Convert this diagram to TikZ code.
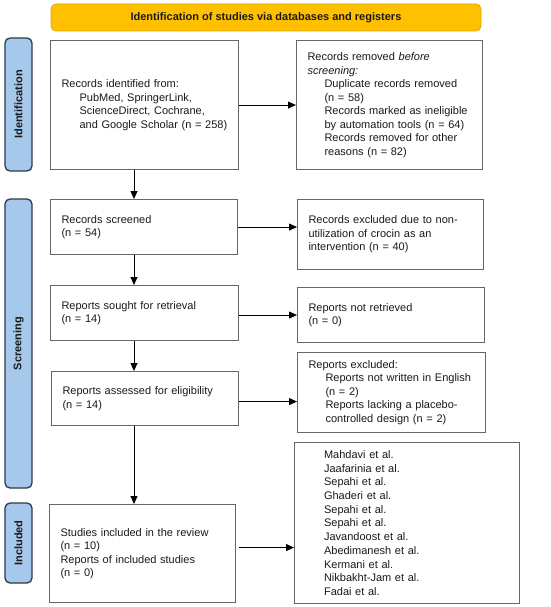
\documentclass[tikz,border=0pt]{standalone}
\usepackage{fontspec}
\setmainfont{Liberation Sans}
\usetikzlibrary{arrows.meta,calc}
\definecolor{bannerfill}{HTML}{FFC000}
\definecolor{bannerdraw}{HTML}{E5A800}
\definecolor{sidefill}{HTML}{A6C8EA}
\definecolor{sidedraw}{HTML}{2B3A4A}
\definecolor{boxdraw}{HTML}{666666}
\definecolor{txt}{HTML}{1A1A1A}
\tikzset{
  flowbox/.style={draw=boxdraw, line width=1.1pt, fill=white, anchor=north west,
    inner xsep=10pt, inner ysep=2pt, align=left, text=txt,
    font=\fontsize{11}{13.5}\selectfont},
  sidelabel/.style={draw=sidedraw, fill=sidefill, line width=1.3pt, rounded corners=5pt,
    rotate=90, minimum height=27pt, inner sep=0pt, text=txt,
    font=\fontsize{11}{13.5}\selectfont\bfseries},
  banner/.style={draw=bannerdraw, fill=bannerfill, line width=0.8pt, rounded corners=5pt,
    minimum width=430pt, minimum height=27pt, inner sep=0pt, text=txt,
    font=\fontsize{11}{13.5}\selectfont\bfseries},
  flowarrow/.style={draw=black, line width=1pt, -{Triangle[length=8pt,width=7pt]}}
}
\newcommand{\ind}{\hspace*{17pt}}
\begin{document}
\begin{tikzpicture}[x=1pt,y=-1pt]
\useasboundingbox (0,0) rectangle (550,607);
\node[banner] (banner) at (266,17.5) {Identification of studies via databases and registers};
\node[sidelabel, minimum width=133pt] (sideid) at (18.5,104.5) {Identification};
\node[sidelabel, minimum width=289pt] (sidescr) at (18.5,343.5) {Screening};
\node[sidelabel, minimum width=80pt] (sideinc) at (18.5,543) {Included};

\node[flowbox, minimum width=188pt, minimum height=129pt, text width=166pt] (ident) at (50,40)
  {Records identified from:\\ \hspace*{18pt}PubMed, SpringerLink,\\ \hspace*{18pt}ScienceDirect, Cochrane,\\ \hspace*{18pt}and Google Scholar (n = 258)};
\node[flowbox, minimum width=186pt, minimum height=129pt, text width=164pt] (removed) at (296,40)
  {Records removed \textit{before}\\ \textit{screening:}\\ \ind Duplicate records removed\\ \ind(n = 58)\\ \ind Records marked as ineligible\\ \ind by automation tools (n = 64)\\ \ind Records removed for other\\ \ind reasons (n = 82)};

\node[flowbox, minimum width=187pt, minimum height=55pt, text width=165pt] (screened) at (50,199)
  {Records screened\\(n = 54)};
\node[flowbox, minimum width=186pt, minimum height=70pt, text width=164pt] (excluded) at (297,199)
  {Records excluded due to non-\\utilization of crocin as an\\intervention (n = 40)};

\node[flowbox, minimum width=188pt, minimum height=55pt, text width=166pt] (sought) at (50,285)
  {Reports sought for retrieval\\(n = 14)};
\node[flowbox, minimum width=187pt, minimum height=55pt, text width=165pt] (notretr) at (297,287)
  {Reports not retrieved\\(n = 0)};

\node[flowbox, minimum width=187pt, minimum height=54pt, text width=165pt] (assessed) at (51,371)
  {Reports assessed for eligibility\\(n = 14)};
\node[flowbox, minimum width=188pt, minimum height=80pt, text width=166pt] (exclrep) at (297,352)
  {Reports excluded:\\ \ind Reports not written in English\\ \ind(n = 2)\\ \ind Reports lacking a placebo-\\ \ind controlled design (n = 2)};

\node[flowbox, minimum width=186pt, minimum height=98pt, text width=164pt] (studies) at (49,504)
  {Studies included in the review\\(n = 10)\\Reports of included studies\\(n = 0)};
\node[flowbox, minimum width=225pt, minimum height=161pt, text width=166pt, inner xsep=29pt, inner ysep=0pt,
  font=\fontsize{11}{13.7}\selectfont] (names) at (294,442)
  {Mahdavi et al.\\Jaafarinia et al.\\Sepahi et al.\\Ghaderi et al.\\Sepahi et al.\\Sepahi et al.\\Javandoost et al.\\Abedimanesh et al.\\Kermani et al.\\Nikbakht-Jam et al.\\Fadai et al.};

\coordinate (ax) at (134,0);
\draw[flowarrow] (ident.east) -- (removed.west);
\draw[flowarrow] (screened.east) -- (screened.east -| excluded.west);
\draw[flowarrow] (sought.east |- notretr.west) -- (notretr.west);
\draw[flowarrow] ($(assessed.east)+(0,3)$) -- ($(assessed.east -| exclrep.west)+(0,3)$);
\draw[flowarrow] ($(studies.east)+(3,-6)$) -- ($(studies.east -| names.west)+(0,-6)$);
\draw[flowarrow] (ident.south -| ax) -- (screened.north -| ax);
\draw[flowarrow] (screened.south -| ax) -- (sought.north -| ax);
\draw[flowarrow] (sought.south -| ax) -- (assessed.north -| ax);
\draw[flowarrow] (assessed.south -| ax) -- (studies.north -| ax);
\end{tikzpicture}
\end{document}
